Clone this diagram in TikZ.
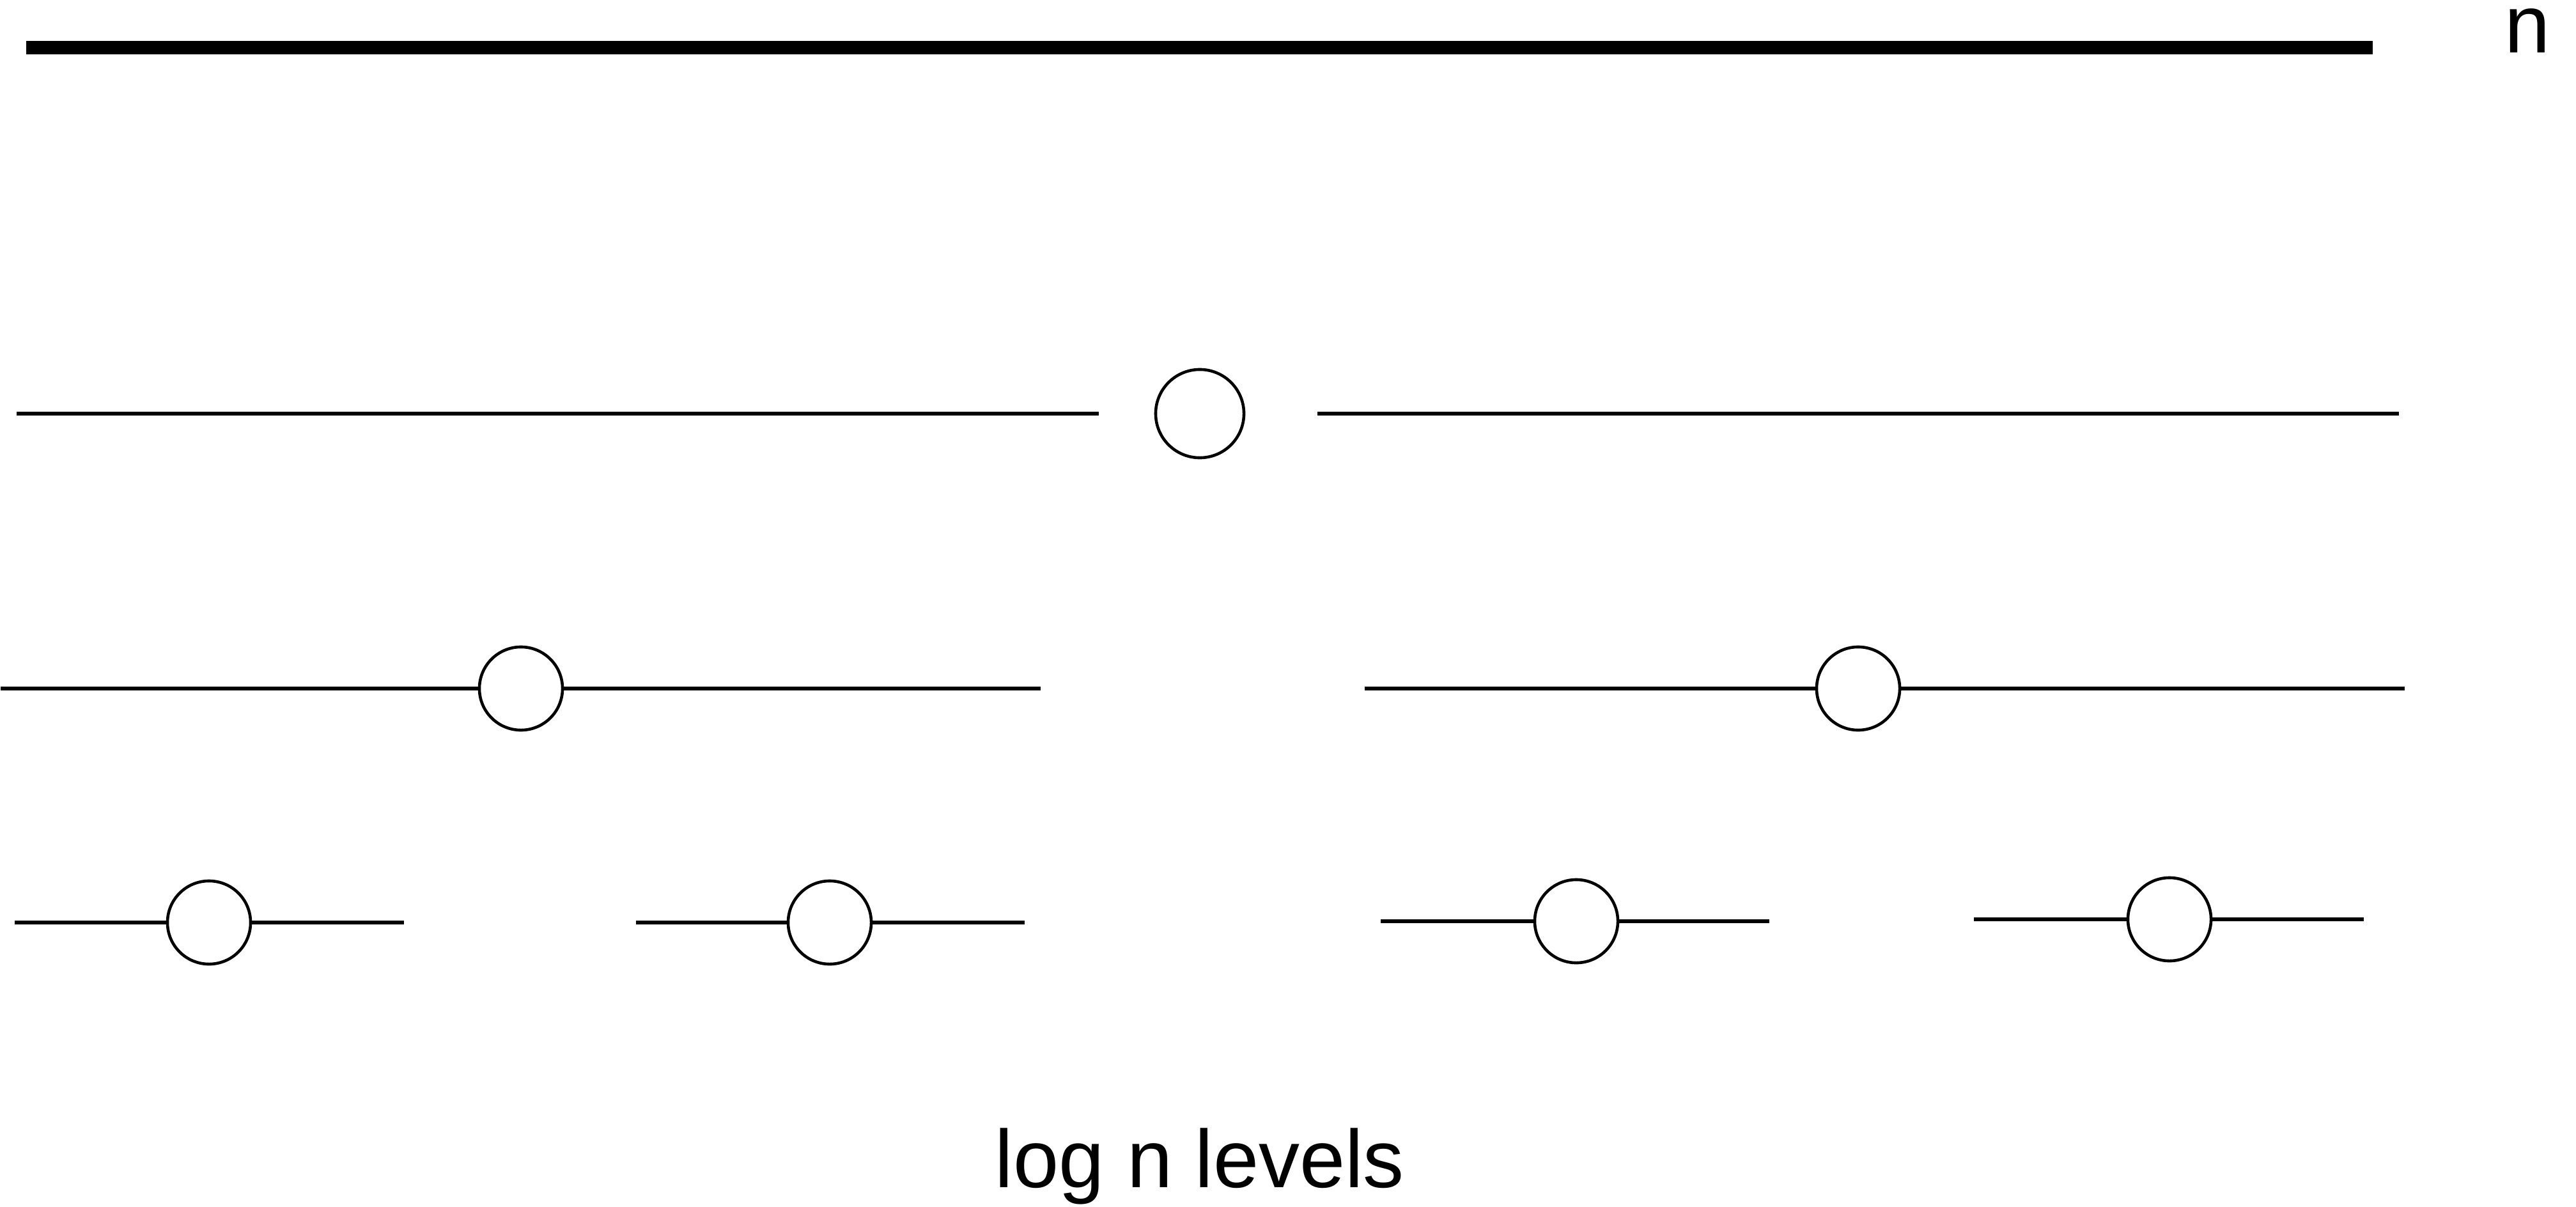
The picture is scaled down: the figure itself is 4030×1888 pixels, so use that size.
\documentclass[tikz,border=0pt]{standalone}
\usepackage{fontspec}
\setmainfont{Liberation Sans}
\begin{document}
\begin{tikzpicture}[x=0.01cm,y=-0.01cm,
  seg/.style={line width=1.55pt},
  bigbar/.style={line width=0.21cm},
  pivot/.style={circle,draw,line width=1.3pt,inner sep=0pt,minimum size=1.30cm,fill=white},
  bigpivot/.style={pivot,minimum size=1.38cm},
  lbl/.style={inner sep=0pt,anchor=base,font=\fontsize{36.4pt}{40pt}\selectfont}]
\useasboundingbox (0,0) rectangle (4030,1888);

% the whole array
\coordinate (t0) at (41,74.5);
\coordinate (t1) at (3712,74.5);
\draw[bigbar] (t0) -- (t1);
\node[lbl] (n) at (3954,83) {n};

% level 1: pivot between two halves
\coordinate (a0) at (26,647);
\coordinate (a1) at (1719,647);
\coordinate (b0) at (2061,647);
\coordinate (b1) at (3753,647);
\node[bigpivot] (p1) at (1877,647) {};
\draw[seg] (a0) -- (a1);
\draw[seg] (b0) -- (b1);

% level 2
\coordinate (c0) at (1,1077);
\coordinate (c1) at (1628,1077);
\node[pivot] (p21) at (815,1077) {};
\draw[seg] (c0) -- (p21.west);
\draw[seg] (p21.east) -- (c1);
\coordinate (d0) at (2135,1077);
\coordinate (d1) at (3762,1077);
\node[pivot] (p22) at (2907,1077) {};
\draw[seg] (d0) -- (p22.west);
\draw[seg] (p22.east) -- (d1);

% level 3
\coordinate (e0) at (23,1443);
\coordinate (e1) at (632,1443);
\node[pivot] (p31) at (327,1443) {};
\draw[seg] (e0) -- (p31.west);
\draw[seg] (p31.east) -- (e1);
\coordinate (f0) at (995,1443);
\coordinate (f1) at (1603,1443);
\node[pivot] (p32) at (1298,1443) {};
\draw[seg] (f0) -- (p32.west);
\draw[seg] (p32.east) -- (f1);
\coordinate (g0) at (2160,1441);
\coordinate (g1) at (2768,1441);
\node[pivot] (p33) at (2466,1441) {};
\draw[seg] (g0) -- (p33.west);
\draw[seg] (p33.east) -- (g1);
\coordinate (h0) at (3088,1438);
\coordinate (h1) at (3698,1438);
\node[pivot] (p34) at (3394,1438) {};
\draw[seg] (h0) -- (p34.west);
\draw[seg] (p34.east) -- (h1);

\node[lbl] (levels) at (1877,1857) {log n levels};
\end{tikzpicture}
\end{document}
